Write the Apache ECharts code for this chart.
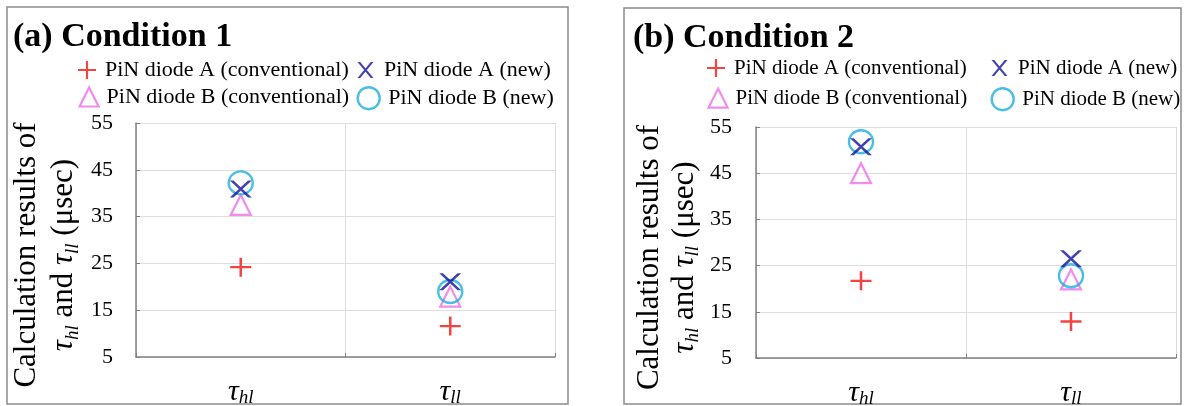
<!DOCTYPE html>
<html><head><meta charset="utf-8">
<script src="https://cdn.jsdelivr.net/npm/echarts@6/dist/echarts.min.js"></script>
<style>html,body{margin:0;padding:0;background:#fff}#c{width:1190px;height:406px}</style>
</head><body><div id="c"></div>
<script>
// ---- data ----
const categories = ['τhl', 'τll'];
const seriesNames = ['PiN diode A (conventional)', 'PiN diode A (new)', 'PiN diode B (conventional)', 'PiN diode B (new)'];
// Condition 1 values (μsec) [τhl, τll]
const cond1_A_conv = [24.2, 11.6];
const cond1_A_new  = [40.9, 21.1];
const cond1_B_conv = [37.5, 17.9];
const cond1_B_new  = [42.2, 19.0];
// Condition 2 values (μsec) [τhl, τll]
const cond2_A_conv = [21.7, 12.9];
const cond2_A_new  = [50.7, 26.5];
const cond2_B_conv = [45.0, 22.0];
const cond2_B_new  = [51.8, 22.8];
const yTicks = [5, 15, 25, 35, 45, 55];
const panelTitles = ['(a) Condition 1', '(b) Condition 2'];

const SERIF = '"Liberation Serif","Times New Roman",serif';
const PLUS = 'path://M0,8.8 H20 V11.2 H0 Z M8.8,0 H11.2 V20 H8.8 Z';
const CROSS = 'path://M0,0 L3.4,0 L20,20 L16.6,20 Z M16.6,0 L20,0 L3.4,20 L0,20 Z';
const styles = {
  'PiN diode A (conventional)': {symbol: PLUS, size: [21, 19], itemStyle: {color: '#f01414'}},
  'PiN diode A (new)': {symbol: CROSS, size: [22, 17], itemStyle: {color: '#12129c'}},
  'PiN diode B (conventional)': {symbol: 'triangle', size: [20, 20], itemStyle: {color: 'rgba(0,0,0,0)', borderColor: '#ee6ee8', borderWidth: 2.2}},
  'PiN diode B (new)': {symbol: 'circle', size: [24, 23], itemStyle: {color: 'rgba(0,0,0,0)', borderColor: '#1faee0', borderWidth: 2.4}}
};
const dataSets = [
  {'PiN diode A (conventional)': cond1_A_conv, 'PiN diode A (new)': cond1_A_new, 'PiN diode B (conventional)': cond1_B_conv, 'PiN diode B (new)': cond1_B_new},
  {'PiN diode A (conventional)': cond2_A_conv, 'PiN diode A (new)': cond2_A_new, 'PiN diode B (conventional)': cond2_B_conv, 'PiN diode B (new)': cond2_B_new}
];
const drawOrder = ['PiN diode A (conventional)', 'PiN diode B (conventional)', 'PiN diode B (new)', 'PiN diode A (new)'];

const grids = [
  {left: 136, top: 123, width: 419, height: 234, outerBoundsMode: 'none', containLabel: false},
  {left: 756, top: 127, width: 420, height: 231, outerBoundsMode: 'none', containLabel: false}
];
const P = [
  {title: 34, legend: 22, tick: 22, tickMargin: 23, cat: 30, sub: 19, nameGap: 54, nameLH: 37, titleLeft: 13, titleTop: 20},
  {title: 34, legend: 21, tick: 22, tickMargin: 24, cat: 30, sub: 19, nameGap: 54, nameLH: 35, titleLeft: 633, titleTop: 21}
];
function richTau(cfg, nameSize) {
  return {
    t: {fontFamily: SERIF, fontStyle: 'italic', fontSize: nameSize || cfg.cat, color: '#000'},
    s: {fontFamily: SERIF, fontStyle: 'italic', fontSize: cfg.sub, color: '#000', verticalAlign: 'bottom'},
    n: {fontFamily: SERIF, fontSize: nameSize || cfg.cat, color: '#000'}
  };
}
function tauLabel(v) { return '{t|τ}{s|' + v.slice(1) + '}'; }

const xAxes = [], yAxes = [], series = [], legends = [], titles = [];
[0, 1].forEach(function (p) {
  const cfg = P[p];
  xAxes.push({
    type: 'category', gridIndex: p, data: categories, boundaryGap: true,
    axisLine: {lineStyle: {color: '#808080', width: 1.5}},
    axisTick: {show: true, inside: true, length: 4, lineStyle: {color: '#808080'}},
    splitLine: {show: true, lineStyle: {color: '#dedede', width: 1}},
    axisLabel: {margin: 20, formatter: tauLabel, rich: richTau(cfg), lineHeight: 30}
  });
  yAxes.push({
    type: 'value', gridIndex: p, min: 5, max: 55, interval: 10,
    axisLine: {show: true, lineStyle: {color: '#808080', width: 1.5}},
    axisTick: {show: true, inside: true, length: 4, lineStyle: {color: '#808080'}},
    splitLine: {show: true, lineStyle: {color: '#dedede', width: 1}},
    axisLabel: {fontFamily: SERIF, fontSize: cfg.tick, color: '#000', margin: cfg.tickMargin},
    name: 'Calculation results of\n{t|τ}{s|hl}{n| and }{t|τ}{s|ll}{n| (μsec)}',
    nameLocation: 'middle', nameRotate: 90, nameGap: cfg.nameGap, nameMoveOverlap: false,
    nameTextStyle: {fontFamily: SERIF, fontSize: 31, color: '#000', lineHeight: cfg.nameLH, padding: [0, 30, 0, 0], rich: richTau(cfg, 31)}
  });
  drawOrder.forEach(function (nm) {
    const st = styles[nm];
    series.push({
      type: 'scatter', name: nm, xAxisIndex: p, yAxisIndex: p,
      symbol: st.symbol, symbolSize: st.size, itemStyle: st.itemStyle,
      data: dataSets[p][nm], z: 2, emphasis: {disabled: true}
    });
  });
  titles.push({
    text: panelTitles[p], left: cfg.titleLeft, top: cfg.titleTop, padding: 0,
    textStyle: {fontFamily: SERIF, fontWeight: 'bold', fontSize: cfg.title, color: '#000'}
  });
});
// legend item centres [x of icon centre, y of row centre]
const legendPos = [
  [[88, 70], [368, 70], [88, 97], [368, 97]],
  [[717, 68], [1002, 68], [717, 98], [1002, 98]]
];
const legendOrder = ['PiN diode A (conventional)', 'PiN diode A (new)', 'PiN diode B (conventional)', 'PiN diode B (new)'];
[0, 1].forEach(function (p) {
  const fs = P[p].legend;
  legendOrder.forEach(function (nm, i) {
    const st = styles[nm];
    const w = st.size[0] - 1, h = st.size[1] - 1;
    const boxH = Math.max(h, fs);
    legends.push({
      left: legendPos[p][i][0] - w / 2, top: legendPos[p][i][1] - boxH / 2, orient: 'horizontal', padding: 0,
      itemWidth: w, itemHeight: h, itemGap: 0,
      textStyle: {fontFamily: SERIF, fontSize: fs, color: '#000', padding: [0, 0, 0, 3]},
      selectedMode: false,
      data: [{name: nm, icon: st.symbol, itemStyle: st.itemStyle}]
    });
  });
});

const chart = echarts.init(document.getElementById('c'), null, {renderer: 'canvas'});
chart.setOption({
  animation: false,
  backgroundColor: '#fff',
  title: titles,
  legend: legends,
  grid: grids,
  xAxis: xAxes,
  yAxis: yAxes,
  series: series,
  graphic: [
    {type: 'rect', shape: {x: 7, y: 7, width: 561, height: 397}, style: {fill: 'none', stroke: '#8a8a8a', lineWidth: 1.5}, silent: true},
    {type: 'rect', shape: {x: 624, y: 8, width: 557, height: 396}, style: {fill: 'none', stroke: '#8a8a8a', lineWidth: 1.5}, silent: true}
  ]
});
</script></body></html>
